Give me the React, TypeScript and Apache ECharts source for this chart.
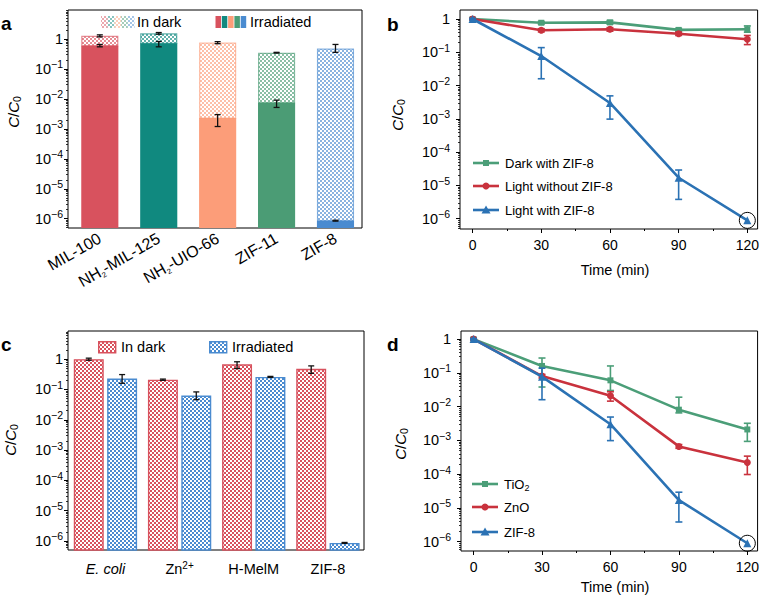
import React, { useEffect, useRef } from 'react';
import * as echarts from 'echarts';

const FONT = 'Liberation Sans, Arial, Helvetica, sans-serif';

// ---------- Panel a ----------
const matCategories = ['MIL-100', 'NH2-MIL-125', 'NH2-UIO-66', 'ZIF-11', 'ZIF-8'];
const matDark = [1.28, 1.55, 0.76, 0.35, 0.48];
const matDarkLow = [1.18, 1.45, 0.7, 0.34, 0.36];
const matDarkHigh = [1.38, 1.65, 0.82, 0.36, 0.66];
const matIrr = [0.6, 0.72, 2.3e-3, 7.5e-3, 8.6e-7];
const matIrrLow = [0.55, 0.55, 1.2e-3, 5.2e-3, 8.3e-7];
const matIrrHigh = [0.66, 0.83, 3.0e-3, 9.1e-3, 8.9e-7];
const matColors = ['#d8525e', '#10897f', '#fc9d79', '#4b9c75', '#4a8bd0'];

// ---------- Panel b ----------
const times = [0, 30, 60, 90, 120];
const darkWithZif = [1, 0.77, 0.79, 0.47, 0.49];
const darkWithZifLow = [0.95, 0.7, 0.7, 0.42, 0.4];
const darkWithZifHigh = [1.05, 0.84, 0.9, 0.52, 0.62];
const lightWithoutZif = [1, 0.46, 0.49, 0.36, 0.245];
const lightWithoutZifLow = [0.95, 0.41, 0.43, 0.32, 0.17];
const lightWithoutZifHigh = [1.05, 0.51, 0.55, 0.4, 0.32];
const lightWithZif = [1, 0.077, 3.0e-3, 1.7e-5, 8.9e-7];
const lightWithZifLow = [0.95, 0.016, 9.8e-4, 3.8e-6, 8.9e-7];
const lightWithZifHigh = [1.05, 0.138, 4.9e-3, 2.9e-5, 8.9e-7];

// ---------- Panel c ----------
const ctrlCategories = ['E. coli', 'Zn2+', 'H-MelM', 'ZIF-8'];
const ctrlDark = [1.0, 0.21, 0.68, 0.48];
const ctrlDarkLow = [0.92, 0.2, 0.49, 0.34];
const ctrlDarkHigh = [1.08, 0.22, 0.82, 0.6];
const ctrlIrr = [0.23, 0.063, 0.26, 8.6e-7];
const ctrlIrrLow = [0.16, 0.046, 0.25, 8.3e-7];
const ctrlIrrHigh = [0.31, 0.083, 0.27, 8.9e-7];

// ---------- Panel d ----------
const tio2 = [1, 0.16, 0.06, 8.1e-3, 2.1e-3];
const tio2Low = [0.95, 0.038, 0.03, 6.5e-3, 9.3e-4];
const tio2High = [1.05, 0.275, 0.16, 0.019, 3.2e-3];
const zno = [1, 0.08, 0.021, 6.6e-4, 2.2e-4];
const znoLow = [0.95, 0.07, 0.0145, 5.8e-4, 9.7e-5];
const znoHigh = [1.05, 0.09, 0.0275, 7.5e-4, 3.4e-4];
const zif8 = [1, 0.077, 3.0e-3, 1.7e-5, 8.9e-7];
const zif8Low = [0.95, 0.016, 9.8e-4, 3.8e-6, 8.9e-7];
const zif8High = [1.05, 0.138, 4.9e-3, 2.9e-5, 8.9e-7];

// ---------- Axes ----------
const yMajorExponents = [-6, -5, -4, -3, -2, -1, 0];
const timeTicks = [0, 30, 60, 90, 120];
const timeMinorTicks = [15, 45, 75, 105];

const GREEN = '#4b9e78';
const RED = '#c9323d';
const BLUE = '#2b72b4';

const L = (v: number) => Math.log10(v);

function minorValues(min: number, max: number) {
  const out: number[] = [];
  for (let e = -8; e <= 1; e++) {
    for (let k = 2; k <= 9; k++) {
      const v = e + Math.log10(k);
      if (v > min + 0.005 && v < max - 0.005) out.push(v);
    }
  }
  return out;
}

const powRich = {
  b: { fontSize: 14.5, fontFamily: FONT, color: '#000', lineHeight: 20 },
  s: { fontSize: 10.5, fontFamily: FONT, color: '#000', lineHeight: 10, verticalAlign: 'top' },
};
const fmtPow = (v: number) => {
  const e = Math.round(v);
  return e === 0 ? '{b|1}' : `{b|10}{s|\u2212${-e}}`;
};

function yAxesFor(g: number, min: number, max: number, margin: number) {
  return [
    {
      type: 'value', gridIndex: g, position: 'left', min, max,
      axisLine: { show: false, onZero: false }, splitLine: { show: false },
      axisTick: { show: true, customValues: yMajorExponents, length: 4, lineStyle: { color: '#000', width: 1 } },
      axisLabel: {
        show: true, customValues: yMajorExponents, margin, formatter: fmtPow, rich: powRich,
        color: '#000', fontSize: 14.5, fontFamily: FONT,
      },
    },
    {
      type: 'value', gridIndex: g, position: 'left', min, max,
      axisLine: { show: false, onZero: false }, splitLine: { show: false },
      axisTick: { show: true, customValues: minorValues(min, max), length: 2, lineStyle: { color: '#000', width: 0.8 } },
      axisLabel: { show: false },
    },
  ];
}

function makeChecker(color: string) {
  const c = document.createElement('canvas');
  c.width = 4; c.height = 4;
  const ctx = c.getContext('2d')!;
  ctx.fillStyle = '#ffffff';
  ctx.fillRect(0, 0, 4, 4);
  ctx.fillStyle = color;
  ctx.fillRect(0, 0, 2, 2);
  ctx.fillRect(2, 2, 2, 2);
  return { image: c, repeat: 'repeat', imageWidth: 4, imageHeight: 4 } as any;
}

function errorSeries(g: number, data: number[][], color: string, cap: number, lw: number, z: number) {
  return {
    type: 'custom', coordinateSystem: 'cartesian2d', xAxisIndex: 2 * g, yAxisIndex: 2 * g, z,
    silent: true,
    data,
    renderItem: (params: any, api: any) => {
      const x = api.value(0);
      const lo = api.coord([x, api.value(1)]);
      const hi = api.coord([x, api.value(2)]);
      if (Math.abs(lo[1] - hi[1]) < 0.5) return null;
      const style = { stroke: color, lineWidth: lw, fill: 'none' };
      return {
        type: 'group',
        children: [
          { type: 'line', shape: { x1: lo[0], y1: lo[1], x2: hi[0], y2: hi[1] }, style },
          { type: 'line', shape: { x1: lo[0] - cap, y1: lo[1], x2: lo[0] + cap, y2: lo[1] }, style },
          { type: 'line', shape: { x1: hi[0] - cap, y1: hi[1], x2: hi[0] + cap, y2: hi[1] }, style },
        ],
      };
    },
  };
}

function buildOption() {
  const A = { min: -6.31, max: 0.97 };
  const B = { min: -6.31, max: 0.27 };
  const C = { min: -6.3, max: 0.93 };
  const D = { min: -6.28, max: 0.24 };

  const matPatterns = matColors.map(makeChecker);
  const redPat = makeChecker('#d8525e');
  const bluePat = makeChecker('#4a8bd0');

  const grids = [
    { left: 68, top: 10, width: 294, height: 218 },
    { left: 460, top: 10, width: 299, height: 219 },
    { left: 68, top: 331, width: 296, height: 219 },
    { left: 461, top: 331, width: 298, height: 220 },
  ].map((g) => ({ ...g, show: true, borderColor: '#000', borderWidth: 1, backgroundColor: 'transparent' }));

  const hiddenX = (g: number, min: number, max: number) => ({
    type: 'value', gridIndex: g, min, max, show: false, axisLine: { onZero: false },
  });

  const timeAxis = (g: number) => ([
    {
      type: 'value', gridIndex: g, min: -5.5, max: 124.5, position: 'bottom',
      axisLine: { show: false, onZero: false }, splitLine: { show: false },
      axisTick: { show: true, customValues: timeTicks, length: 4, lineStyle: { color: '#000' } },
      axisLabel: { customValues: timeTicks, margin: 9, fontSize: 14, fontFamily: FONT, color: '#000' },
    },
    {
      type: 'value', gridIndex: g, min: -5.5, max: 124.5, position: 'bottom',
      axisLine: { show: false, onZero: false }, splitLine: { show: false },
      axisTick: { show: true, customValues: timeMinorTicks, length: 2, lineStyle: { color: '#000' } },
      axisLabel: { show: false },
    },
  ]);

  const xAxis: any[] = [
    {
      type: 'value', gridIndex: 0, min: -0.54, max: 4.45, position: 'bottom',
      axisLine: { show: false, onZero: false }, splitLine: { show: false }, axisTick: { show: false },
      axisLabel: {
        customValues: [0, 1, 2, 3, 4], rotate: 30, margin: 9, color: '#000', fontSize: 16, fontFamily: FONT,
        formatter: (v: number) => {
          const s = matCategories[Math.round(v)];
          if (s.startsWith('NH2')) return `{n|NH}{sub|2}{n|${s.slice(3)}}`;
          return `{n|${s}}`;
        },
        rich: {
          n: { fontSize: 16, fontFamily: FONT, color: '#000', lineHeight: 19 },
          sub: { fontSize: 7.5, fontFamily: FONT, color: '#000', lineHeight: 7, verticalAlign: 'bottom' },
        },
      },
    },
    hiddenX(0, -0.54, 4.45),
    ...timeAxis(1),
    {
      type: 'value', gridIndex: 2, min: -0.505, max: 3.487, position: 'bottom',
      axisLine: { show: false, onZero: false }, splitLine: { show: false }, axisTick: { show: false },
      axisLabel: {
        customValues: [0, 1, 2, 3], margin: 10, color: '#000', fontSize: 14.5, fontFamily: FONT,
        formatter: (v: number) => {
          const s = ctrlCategories[Math.round(v)];
          if (s === 'E. coli') return '{i|E. coli}';
          if (s === 'Zn2+') return '{n|Zn}{sup|2+}';
          return `{n|${s}}`;
        },
        rich: {
          n: { fontSize: 14.5, fontFamily: FONT, color: '#000', lineHeight: 18 },
          i: { fontSize: 14.5, fontFamily: FONT, fontStyle: 'italic', color: '#000', lineHeight: 18 },
          sup: { fontSize: 10, fontFamily: FONT, color: '#000', lineHeight: 10, verticalAlign: 'top' },
        },
      },
    },
    hiddenX(2, -0.505, 3.487),
    ...timeAxis(3),
  ];

  const yAxis: any[] = [
    ...yAxesFor(0, A.min, A.max, 5),
    ...yAxesFor(1, B.min, B.max, 10),
    ...yAxesFor(2, C.min, C.max, 5),
    ...yAxesFor(3, D.min, D.max, 10),
  ];

  // ---- panel a bars
  const barW = 0.63;
  const barRender = (kind: 'solid' | 'hatch') => (params: any, api: any) => {
    const x = api.value(0);
    const pBot = api.coord([x - barW / 2, api.value(1)]);
    const pTop = api.coord([x + barW / 2, api.value(2)]);
    const i = params.dataIndex;
    const w = pTop[0] - pBot[0];
    const h = pBot[1] - pTop[1];
    if (kind === 'solid') {
      return {
        type: 'rect',
        shape: { x: pBot[0], y: pTop[1], width: w, height: h },
        style: { fill: matColors[i], stroke: 'none' },
      };
    }
    return {
      type: 'rect',
      shape: { x: pBot[0] + 0.6, y: pTop[1] + 0.6, width: w - 1.2, height: h - 0.6 },
      style: { fill: matPatterns[i], stroke: matColors[i], lineWidth: 1.2, opacity: 0.65 },
    };
  };

  const seriesA: any[] = [
    {
      type: 'custom', coordinateSystem: 'cartesian2d', xAxisIndex: 0, yAxisIndex: 0, z: 2, silent: true,
      data: matIrr.map((v, i) => [i, A.min, L(v)]),
      renderItem: barRender('solid'),
    },
    {
      type: 'custom', coordinateSystem: 'cartesian2d', xAxisIndex: 0, yAxisIndex: 0, z: 2, silent: true,
      data: matDark.map((v, i) => [i, L(matIrr[i]), L(v)]),
      renderItem: barRender('hatch'),
    },
    errorSeries(0, matDark.map((_, i) => [i, L(matDarkLow[i]), L(matDarkHigh[i])]), '#111', 3, 1.3, 5),
    errorSeries(0, matIrr.map((_, i) => [i, L(matIrrLow[i]), L(matIrrHigh[i])]), '#111', 3, 1.3, 5),
  ];

  // ---- panel c bars
  const cBarW = 0.404;
  const cOff = 0.225;
  const cRender = (pat: any, edge: string, off: number) => (params: any, api: any) => {
    const x = api.value(0) + off;
    const pBot = api.coord([x - cBarW / 2, api.value(1)]);
    const pTop = api.coord([x + cBarW / 2, api.value(2)]);
    return {
      type: 'rect',
      shape: { x: pBot[0] + 0.7, y: pTop[1] + 0.7, width: pTop[0] - pBot[0] - 1.4, height: pBot[1] - pTop[1] - 0.7 },
      style: { fill: pat, stroke: edge, lineWidth: 1.4 },
    };
  };
  const seriesC: any[] = [
    {
      type: 'custom', coordinateSystem: 'cartesian2d', xAxisIndex: 4, yAxisIndex: 4, z: 2, silent: true,
      data: ctrlDark.map((v, i) => [i, C.min, L(v)]),
      renderItem: cRender(redPat, '#d8525e', -cOff),
    },
    {
      type: 'custom', coordinateSystem: 'cartesian2d', xAxisIndex: 4, yAxisIndex: 4, z: 2, silent: true,
      data: ctrlIrr.map((v, i) => [i, C.min, L(v)]),
      renderItem: cRender(bluePat, '#4a8bd0', cOff),
    },
    errorSeries(2, ctrlDark.map((_, i) => [i - cOff, L(ctrlDarkLow[i]), L(ctrlDarkHigh[i])]), '#111', 3, 1.3, 5),
    errorSeries(2, ctrlIrr.map((_, i) => [i + cOff, L(ctrlIrrLow[i]), L(ctrlIrrHigh[i])]), '#111', 3, 1.3, 5),
  ];

  // ---- line panels
  const lineSeries = (g: number, vals: number[], color: string, symbol: string, size: number, z: number) => ({
    type: 'line', xAxisIndex: 2 * g, yAxisIndex: 2 * g, z, silent: true,
    data: vals.map((v, i) => [times[i], L(v)]),
    symbol, symbolSize: size, showSymbol: true,
    lineStyle: { color, width: 2.6 },
    itemStyle: { color, borderWidth: 0 },
    emphasis: { disabled: true },
  });
  const errs = (g: number, lo: number[], hi: number[], color: string, z: number) =>
    errorSeries(g, lo.map((_, i) => [times[i], L(lo[i]), L(hi[i])]), color, 3.5, 1.6, z);
  const circleMark = (g: number, t: number, v: number) => ({
    type: 'custom', coordinateSystem: 'cartesian2d', xAxisIndex: 2 * g, yAxisIndex: 2 * g, z: 10, silent: true,
    data: [[t, L(v)]],
    renderItem: (params: any, api: any) => {
      const p = api.coord([api.value(0), api.value(1)]);
      return { type: 'circle', shape: { cx: p[0], cy: p[1], r: 8 }, style: { fill: 'none', stroke: '#000', lineWidth: 1 } };
    },
  });

  const seriesB: any[] = [
    lineSeries(1, darkWithZif, GREEN, 'rect', 6, 3),
    errs(1, darkWithZifLow, darkWithZifHigh, GREEN, 3),
    lineSeries(1, lightWithoutZif, RED, 'circle', 7, 4),
    errs(1, lightWithoutZifLow, lightWithoutZifHigh, RED, 4),
    lineSeries(1, lightWithZif, BLUE, 'triangle', 8, 5),
    errs(1, lightWithZifLow, lightWithZifHigh, BLUE, 5),
    circleMark(1, 120, lightWithZif[4]),
  ];
  const seriesD: any[] = [
    lineSeries(3, tio2, GREEN, 'rect', 6, 3),
    errs(3, tio2Low, tio2High, GREEN, 3),
    lineSeries(3, zno, RED, 'circle', 7, 4),
    errs(3, znoLow, znoHigh, RED, 4),
    lineSeries(3, zif8, BLUE, 'triangle', 8, 5),
    errs(3, zif8Low, zif8High, BLUE, 5),
    circleMark(3, 120, zif8[4]),
  ];

  // ---- graphics
  const txt = (x: number, y: number, text: string, extra: any = {}) => ({
    type: 'text', x, y, silent: true,
    style: { text, fontFamily: FONT, fontSize: 13, fill: '#000', align: 'left', verticalAlign: 'middle', ...extra },
  });
  const yTitle = (x: number, y: number) => ({
    type: 'text', x, y, rotation: Math.PI / 2, silent: true,
    style: {
      text: '{i|C}{n|/}{i|C}{sub|0}', align: 'center', verticalAlign: 'middle', fontSize: 15, fontFamily: FONT,
      rich: {
        i: { fontFamily: FONT, fontSize: 15, fontStyle: 'italic', fill: '#000', lineHeight: 18 },
        n: { fontFamily: FONT, fontSize: 15, fill: '#000', lineHeight: 18 },
        sub: { fontFamily: FONT, fontSize: 10.5, fill: '#000', lineHeight: 10, verticalAlign: 'bottom' },
      },
    },
  });
  const letter = (x: number, y: number, t: string) => ({
    type: 'text', x, y, silent: true,
    style: { text: t, fontFamily: FONT, fontSize: 19, fontWeight: 'bold', fill: '#000', verticalAlign: 'alphabetic' },
  });

  const legendLine = (x1: number, x2: number, y: number, color: string, marker: string, label: string, sub?: string) => {
    const cx = (x1 + x2) / 2;
    let m: any;
    if (marker === 'rect') m = { type: 'rect', shape: { x: cx - 3, y: y - 3, width: 6, height: 6 }, style: { fill: color } };
    else if (marker === 'circle') m = { type: 'circle', shape: { cx, cy: y, r: 3.5 }, style: { fill: color } };
    else m = { type: 'polygon', shape: { points: [[cx, y - 4.5], [cx - 4.5, y + 3.5], [cx + 4.5, y + 3.5]] }, style: { fill: color } };
    const items: any[] = [
      { type: 'line', shape: { x1, y1: y, x2, y2: y }, style: { stroke: color, lineWidth: 2.6 } },
      m,
    ];
    if (sub) {
      items.push({
        type: 'text', x: x2 + 6, y, silent: true,
        style: {
          text: `{n|${label}}{s|${sub}}`, verticalAlign: 'middle', align: 'left', fontSize: 13, fontFamily: FONT,
          rich: {
            n: { fontFamily: FONT, fontSize: 13, fill: '#000', lineHeight: 16 },
            s: { fontFamily: FONT, fontSize: 9, fill: '#000', lineHeight: 9, verticalAlign: 'bottom' },
          },
        },
      });
    } else items.push(txt(x2 + 6, y, label));
    return items;
  };

  const graphics: any[] = [
    letter(1, 14, 'a'), letter(387, 15, 'b'), letter(1, 335, 'c'), letter(387, 335, 'd'),
    yTitle(13, 112), yTitle(397, 115), yTitle(10, 440), yTitle(400, 444),
    txt(615, 270, 'Time (min)', { align: 'center', fontSize: 14.5 }),
    txt(615, 587, 'Time (min)', { align: 'center', fontSize: 14.5 }),
    // panel a legend
    ...matColors.map((c, i) => ({
      type: 'rect', silent: true, shape: { x: 101 + i * 6.7, y: 16, width: 6.7, height: 12 },
      style: { fill: matPatterns[i], opacity: 0.5 },
    })),
    txt(137, 22, 'In dark', { fontSize: 14.5 }),
    ...matColors.map((c, i) => ({
      type: 'rect', silent: true, shape: { x: 215.5 + i * 6.3, y: 16, width: 5.5, height: 12 },
      style: { fill: c },
    })),
    txt(250, 22, 'Irradiated', { fontSize: 14.5 }),
    // panel c legend
    { type: 'rect', silent: true, shape: { x: 98.7, y: 341.7, width: 17, height: 11 }, style: { fill: redPat, stroke: '#d8525e', lineWidth: 1.4 } },
    txt(121, 347, 'In dark', { fontSize: 14.5 }),
    { type: 'rect', silent: true, shape: { x: 209.7, y: 341.7, width: 17, height: 11 }, style: { fill: bluePat, stroke: '#4a8bd0', lineWidth: 1.4 } },
    txt(232, 347, 'Irradiated', { fontSize: 14.5 }),
    // panel b legend
    ...legendLine(473, 499, 163, GREEN, 'rect', 'Dark with ZIF-8'),
    ...legendLine(473, 499, 186, RED, 'circle', 'Light without ZIF-8'),
    ...legendLine(473, 499, 210, BLUE, 'triangle', 'Light with ZIF-8'),
    // panel d legend
    ...legendLine(472, 498, 484, GREEN, 'rect', 'TiO', '2'),
    ...legendLine(472, 498, 507, RED, 'circle', 'ZnO'),
    ...legendLine(472, 498, 532, BLUE, 'triangle', 'ZIF-8'),
  ];

  return {
    animation: false,
    backgroundColor: '#ffffff',
    textStyle: { fontFamily: FONT },
    grid: grids,
    xAxis,
    yAxis,
    series: [...seriesA, ...seriesB, ...seriesC, ...seriesD],
    graphic: { elements: graphics },
  };
}

export default function App() {
  const ref = useRef<HTMLDivElement>(null);
  useEffect(() => {
    document.body.style.margin = '0';
    const chart = echarts.init(ref.current!, null, { renderer: 'svg' });
    chart.setOption(buildOption() as any);
    return () => chart.dispose();
  }, []);
  return <div ref={ref} style={{ position: 'fixed', left: 0, top: 0, width: 762, height: 604 }} />;
}
